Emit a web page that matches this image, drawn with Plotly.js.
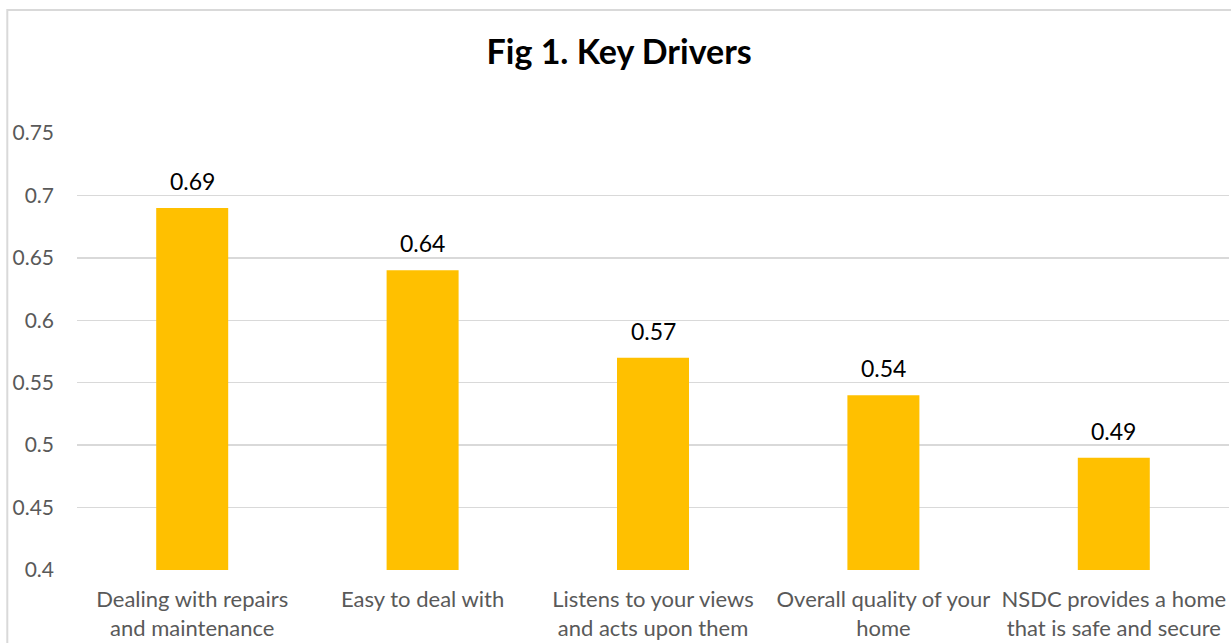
<!DOCTYPE html>
<html>
<head>
<meta charset="utf-8">
<script src="https://cdn.plot.ly/plotly-3.0.1.min.js"></script>
<style>html,body{margin:0;padding:0;background:#fff;}#chart{width:1231px;height:643px;}</style>
</head>
<body>
<div id="chart"></div>
<script>
const categories = [
  "Dealing with repairs<br>and maintenance",
  "Easy to deal with",
  "Listens to your views<br>and acts upon them",
  "Overall quality of your<br>home",
  "NSDC provides a home<br>that is safe and secure"
];
const values = [0.69, 0.64, 0.57, 0.54, 0.49];
const valueLabels = ["0.69", "0.64", "0.57", "0.54", "0.49"];
const yTicks = [0.4, 0.45, 0.5, 0.55, 0.6, 0.65, 0.7, 0.75];
const yTickLabels = ["0.4", "0.45", "0.5", "0.55", "0.6", "0.65", "0.7", "0.75"];

const font = "Lato, 'Open Sans', sans-serif";

const trace = {
  type: "bar",
  x: categories,
  y: values,
  base: 0,
  marker: {color: "#FFC000"},
  hoverinfo: "none"
};

const annotations = values.map((v, i) => ({
  x: categories[i], y: v, xref: "x", yref: "y",
  text: valueLabels[i], showarrow: false,
  yanchor: "bottom", yshift: 11,
  font: {family: font, size: 23, color: "#000"}
}));

const layout = {
  width: 1231, height: 643,
  margin: {l: 77, r: 2, t: 133, b: 73},
  paper_bgcolor: "#fff", plot_bgcolor: "#fff",
  bargap: 0.6875,
  showlegend: false,
  title: {
    text: "<b>Fig 1. Key Drivers</b>",
    x: 0.503, xanchor: "center", y: 0.919, yanchor: "middle",
    font: {family: font, size: 34, color: "#000"}
  },
  xaxis: {
    type: "category",
    showgrid: false, zeroline: false, showline: false,
    ticks: "", ticklabelstandoff: 14,
    tickfont: {family: font, size: 22, color: "#595959"},
    fixedrange: true
  },
  yaxis: {
    range: [0.4, 0.75],
    tickvals: yTicks, ticktext: yTickLabels,
    showgrid: true, gridcolor: "#D9D9D9", gridwidth: 1.5,
    zeroline: false, showline: false,
    ticks: "", ticklabelstandoff: 22,
    tickfont: {family: font, size: 21, color: "#595959"},
    fixedrange: true
  },
  annotations: annotations,
  shapes: [{
    type: "rect", xref: "paper", yref: "paper",
    x0: -0.0605, x1: 1.05, y0: -0.5, y1: 1.2815,
    line: {color: "#D9D9D9", width: 2}, fillcolor: "rgba(0,0,0,0)", layer: "below"
  }]
};

Plotly.newPlot("chart", [trace], layout, {displayModeBar: false, staticPlot: true});
</script>
</body>
</html>
